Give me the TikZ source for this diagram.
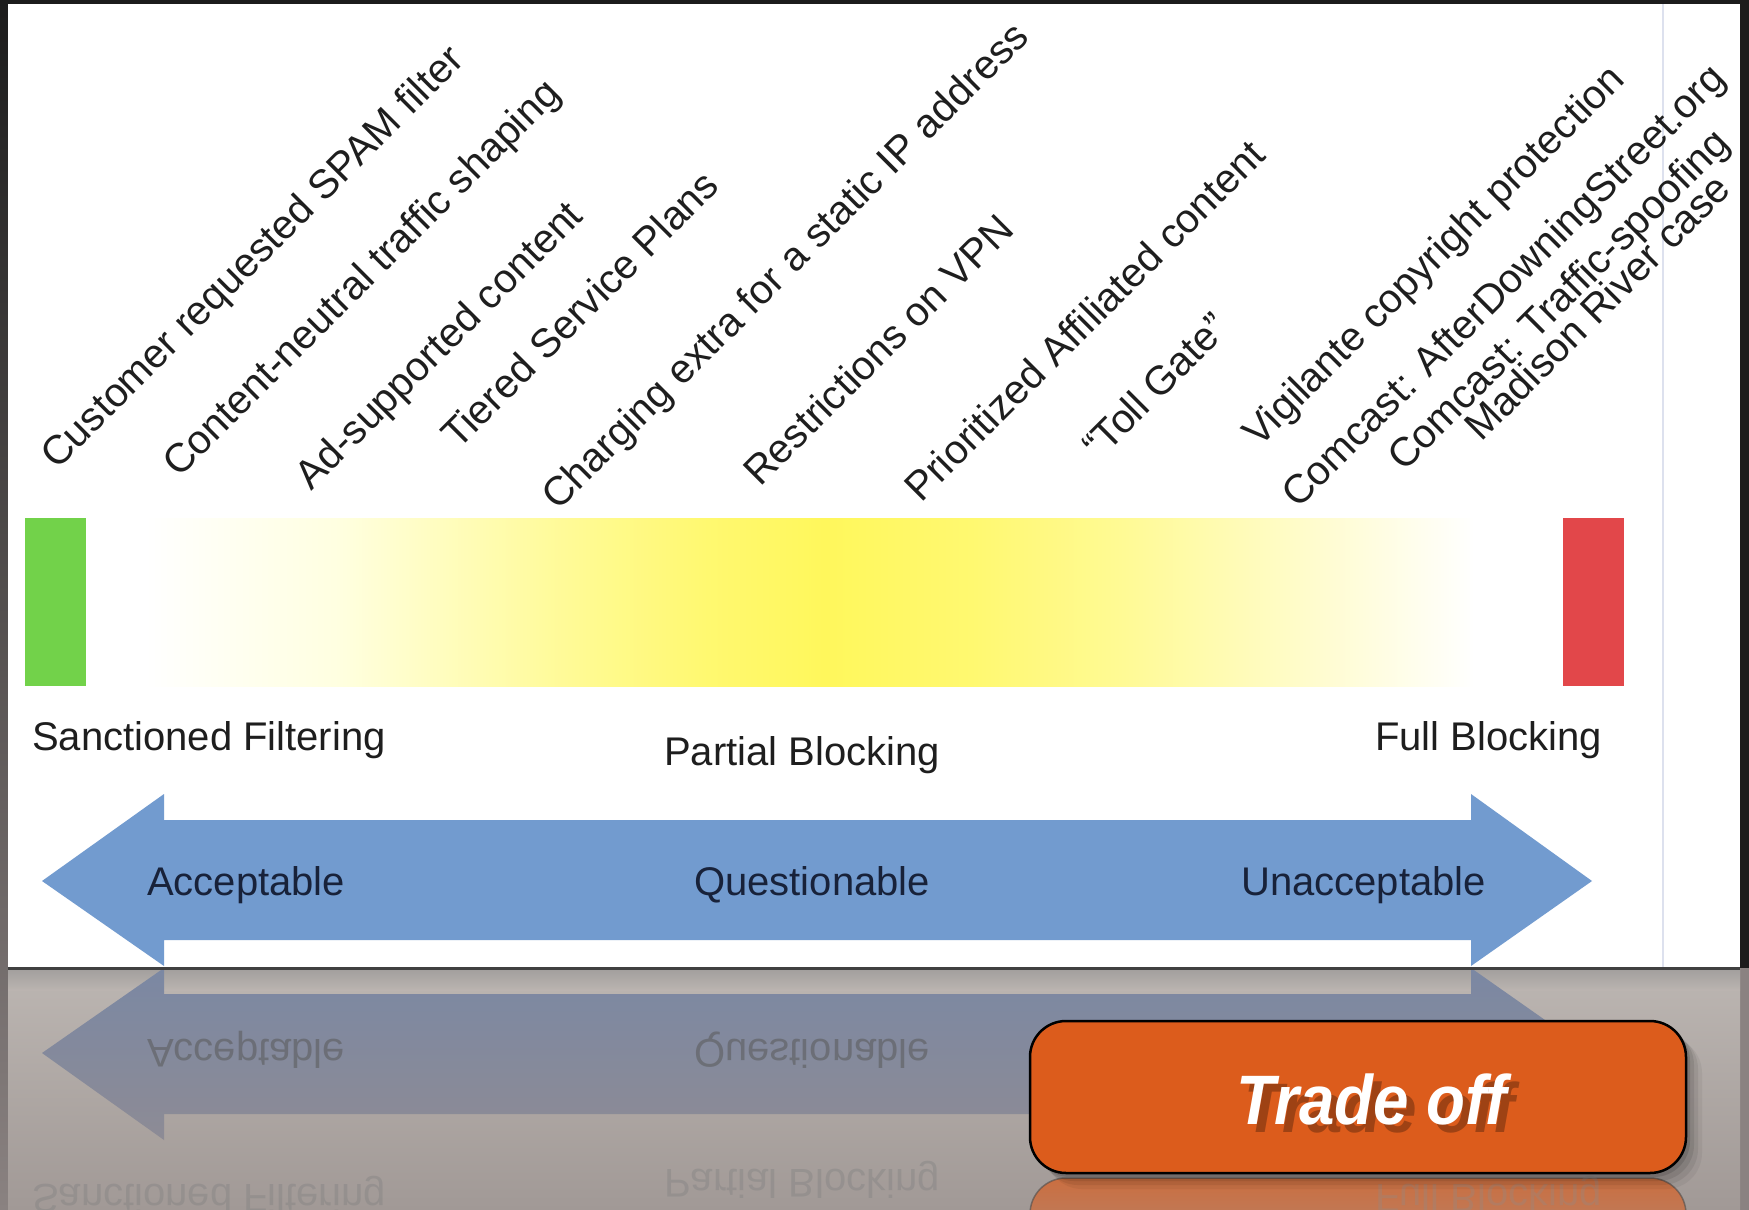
\documentclass[tikz,border=0pt]{standalone}
\usepackage{fontspec}
\setmainfont{Liberation Sans}
\definecolor{bgdark}{HTML}{1C1C1C}
\definecolor{refltop}{HTML}{BCB6B2}
\definecolor{reflbot}{HTML}{A19996}
\definecolor{stripbot}{HTML}{8A8281}
\definecolor{okgreen}{HTML}{72D24A}
\definecolor{badred}{HTML}{E2474A}
\definecolor{arrowblue}{HTML}{729BCF}
\definecolor{reflblueA}{HTML}{7B88A3}
\definecolor{reflblueB}{HTML}{8D8B95}
\definecolor{btnorange}{HTML}{DC5C1C}
\definecolor{txtdark}{HTML}{1E1E1E}
\definecolor{txtnavy}{HTML}{18223A}
\definecolor{vline}{HTML}{DDE1EE}
\pgfdeclarehorizontalshading{barshade}{100bp}{rgb(0bp)=(1,1,1); rgb(25bp)=(1,1,1); rgb(27bp)=(1,1,1); rgb(33.5bp)=(1,1,0.88); rgb(41bp)=(1,0.982,0.6); rgb(46bp)=(1,0.975,0.44); rgb(50bp)=(1,0.97,0.36); rgb(55bp)=(1,0.975,0.44); rgb(60bp)=(1,0.98,0.58); rgb(67.5bp)=(1,0.99,0.84); rgb(72bp)=(1,1,1); rgb(75bp)=(1,1,1); rgb(100bp)=(1,1,1)}
\tikzset{
  diaglabel/.style={anchor=base west, rotate=45, inner sep=0pt, text=txtdark, font=\fontsize{40.5}{44}\selectfont},
  scalelabel/.style={anchor=base west, inner sep=0pt, text=txtdark, font=\fontsize{40}{46}\selectfont},
  arrowlabel/.style={anchor=base west, inner sep=0pt, text=txtnavy, font=\fontsize{40}{46}\selectfont},
  refllabel/.style={anchor=base west, inner sep=0pt, yscale=-1, font=\fontsize{40}{46}\selectfont},
  btnshadow/.style={fill=black, rounded corners=36pt},
  btntext/.style={xscale=0.91, font=\fontsize{70}{80}\selectfont\bfseries\itshape},
}
\begin{document}
\begin{tikzpicture}[x=1pt,y=-1pt]
\useasboundingbox (0,0) rectangle (1749,1210);
% background
\fill[bgdark] (0,0) rectangle (1749,1210);
\shade[top color=bgdark, bottom color=stripbot] (0,0) rectangle (8,1210);
\fill[stripbot] (1740,968) rectangle (1749,1210);
\shade[top color=refltop, bottom color=reflbot] (8,968) rectangle (1740,1210);
% slide
\fill[white] (8,4) rectangle (1740,968);
\draw[vline, line width=1.5pt] (1663,4) -- (1663,968);
% scale bar
\shade[shading=barshade] (86,518) rectangle (1563,686);
\fill[okgreen] (25,518) rectangle (86,686);
\fill[badred] (1563,518) rectangle (1624,686);
% diagonal labels
\node[diaglabel] (l1) at (57,471) {Customer requested SPAM filter};
\node[diaglabel] (l2) at (179,479) {Content-neutral traffic shaping};
\node[diaglabel] (l3) at (311,492) {Ad-supported content};
\node[diaglabel] (l4) at (458,451) {Tiered Service Plans};
\node[diaglabel] (l5) at (558,512) {Charging extra for a static IP address};
\node[diaglabel] (l6) at (760,488) {Restrictions on VPN};
\node[diaglabel] (l7) at (921,504) {Prioritized Affiliated content};
\node[diaglabel] (l8) at (1099,462) {“Toll Gate”};
\node[diaglabel] (l9) at (1259,449) {Vigilante copyright protection};
\node[diaglabel] (l10) at (1298,510) {Comcast: AfterDowningStreet.org};
\node[diaglabel] (l11) at (1404,473) {Comcast: Traffic-spoofing};
\node[diaglabel] (l12) at (1481,443) {Madison River case};
% scale labels
\node[scalelabel] (sf) at (32,750) {Sanctioned Filtering};
\node[scalelabel] (pb) at (664,765) {Partial Blocking};
\node[scalelabel] (fb) at (1375,750) {Full Blocking};
% double arrow
\fill[arrowblue] (42,881) -- (164,794) -- (164,820) -- (1471,820) -- (1471,794) -- (1592,881) -- (1471,966) -- (1471,940) -- (164,940) -- (164,966) -- cycle;
\node[arrowlabel] (acc) at (147,895) {Acceptable};
\node[arrowlabel] (que) at (694,895) {Questionable};
\node[arrowlabel] (una) at (1241,895) {Unacceptable};
% slide bottom edge
\draw[line width=3pt, color=black!75] (8,968) -- (1740,968);
% reflection
\begin{scope}
\clip (8,970) rectangle (1740,1210);
\shade[top color=black!45, bottom color=refltop, opacity=0.5] (8,970) rectangle (1740,990);
\shade[top color=reflblueA, bottom color=reflblueB] (42,1053) -- (164,1140) -- (164,1114) -- (1471,1114) -- (1471,1140) -- (1592,1053) -- (1471,968) -- (1471,994) -- (164,994) -- (164,968) -- cycle;
\node[refllabel, text=black!65, opacity=0.55] (racc) at (147,1039) {Acceptable};
\node[refllabel, text=black!65, opacity=0.55] (rque) at (694,1039) {Questionable};
\node[refllabel, text=black!50, opacity=0.4] (rsf) at (32,1184) {Sanctioned Filtering};
\node[refllabel, text=black!50, opacity=0.4] (rpb) at (664,1169) {Partial Blocking};
% button reflection
\shade[top color=btnorange!70!reflbot, bottom color=reflbot, rounded corners=36pt] (1030,1178) rectangle (1686,1330);
\draw[black!70, line width=1.5pt, opacity=0.6, rounded corners=36pt] (1030,1330) -- (1030,1178) -- (1686,1178) -- (1686,1330);
\node[refllabel, text=black!45, opacity=0.3] (rfb) at (1375,1184) {Full Blocking};
\end{scope}
% button shadow
\foreach \d/\o in {16/0.05, 12/0.07, 8/0.09, 4/0.12}{
  \fill[btnshadow, opacity=\o] (1030+\d,1021+\d) rectangle (1686+\d,1173+\d);
}
% button
\node[draw=black, line width=2.5pt, fill=btnorange, rounded corners=36pt, minimum width=656pt, minimum height=152pt, inner sep=0pt] (btn) at (1358,1097) {};
\node[btntext, text=black!80!btnorange, opacity=0.35] (tshadow) at (1380,1107) {Trade off};
\node[btntext, text=white] (trade) at (1372,1099) {Trade off};
\end{tikzpicture}
\end{document}
